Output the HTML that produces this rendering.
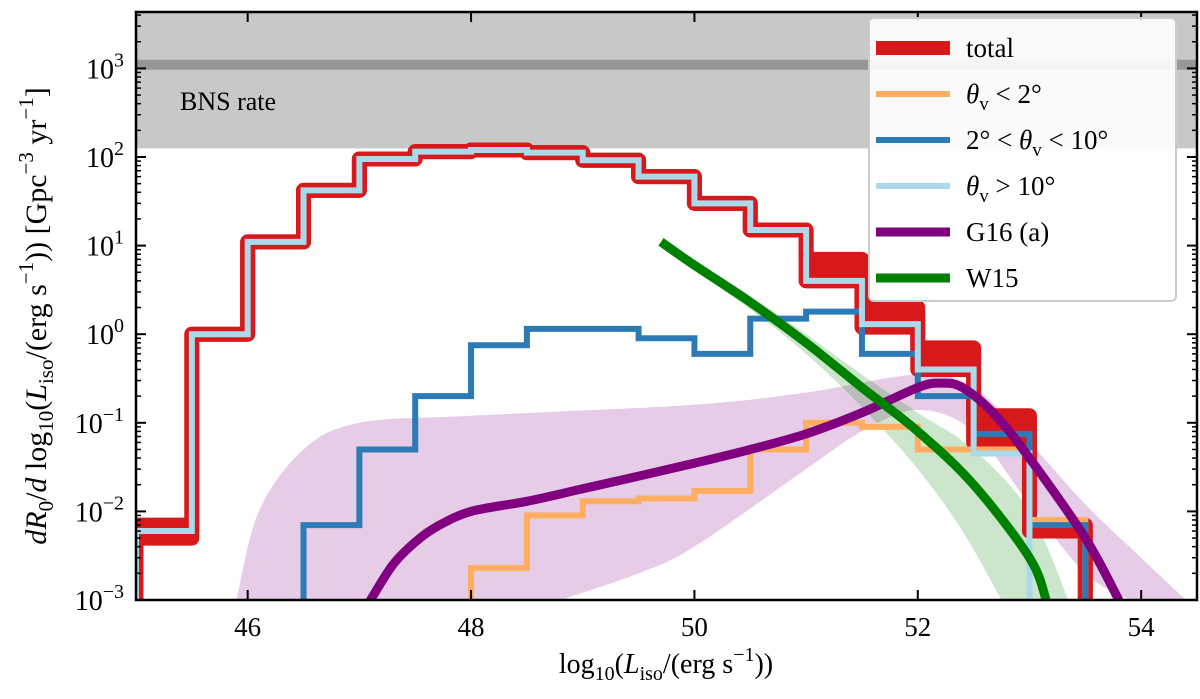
<!DOCTYPE html>
<html><head><meta charset="utf-8"><style>
html,body{margin:0;padding:0;background:#fff}
svg text{font-family:"Liberation Serif","DejaVu Serif",serif;fill:#000}
</style></head><body>
<svg id="chart" width="1200" height="694" xmlns="http://www.w3.org/2000/svg"></svg>
<script>
// ---- data ----
const binEdges = [45,45.5,46,46.5,47,47.5,48,48.5,49,49.5,50,50.5,51,51.5,52,52.5,53,53.5];
const totalHi = [0.007,1.0,11,42,95,115,120,112,92,60,30,15,7,2.0,0.7,0.12,0.007];
const totalLo = [0.005,1.0,11,42,95,115,120,112,92,60,30,15,4,1.2,0.4,0.06,0.006];
const lightBlue = [0.006,1.0,11,42,95,115,120,112,92,60,30,15,4,1.3,0.4,0.045,null];
const blueVals = [null,null,null,0.007,0.05,0.2,0.75,1.15,1.15,0.9,0.6,1.5,1.8,0.6,0.2,0.075,0.007];
const orangeVals = [null,null,null,null,null,null,0.0023,0.009,0.013,0.014,0.017,0.05,0.1,0.09,0.05,0.05,0.008];
const g16X = [47.1,47.3,47.5,47.7,48,48.5,49,49.5,50,50.5,51,51.5,52,52.2,52.4,52.7,53,53.5,53.8];
const g16Y = [0.001,0.0025,0.0045,0.0068,0.01,0.013,0.018,0.025,0.035,0.05,0.075,0.13,0.25,0.28,0.25,0.12,0.04,0.005,0.001];
const g16UpX = [45.9,46.1,46.5,47,48,50,51,52,52.5,53,53.5,54,54.4];
const g16UpY = [0.001,0.01,0.05,0.1,0.12,0.16,0.22,0.35,0.25,0.06,0.012,0.003,0.001];
const g16LoX = [48.8,49.5,50,51,51.5,52,52.5,53,53.5,53.9];
const g16LoY = [0.001,0.002,0.004,0.03,0.08,0.14,0.08,0.012,0.002,0.001];
const w15X = [49.7,50,50.5,51,51.5,52,52.5,53,53.15];
const w15Y = [11,6,2.3,0.8,0.25,0.08,0.02,0.003,0.001];
const w15UpX = [49.7,50,50.5,51,51.5,52,52.5,53,53.35];
const w15UpY = [13,7,2.7,1.0,0.35,0.13,0.05,0.01,0.001];
const w15LoX = [49.8,50.5,51,51.5,52,52.4,52.75];
const w15LoY = [8,1.9,0.6,0.15,0.03,0.006,0.001];
const bnsLow = 125, bnsLine = 1100;
const xTicks = [46,48,50,52,54];
const yTicks = [-3,-2,-1,0,1,2,3];
// ---- axes ----
const X0=136,X1=1197,Y0=600,Y1=12, xmin=45,xmax=54.5, lmin=-3, dec=88.6;
const ymaxLog = lmin + (Y0-Y1)/dec;
const sx=v=>X0+(v-xmin)/(xmax-xmin)*(X1-X0);
const sy=v=>{let l=Math.log10(v); if(l<lmin-0.3)l=lmin-0.3; return Y0-(l-lmin)*dec;};
const NS="http://www.w3.org/2000/svg", svg=document.getElementById('chart');
function mk(tag,attrs,parent){const e=document.createElementNS(NS,tag);for(const k in attrs)e.setAttribute(k,attrs[k]);(parent||plot).appendChild(e);return e;}
const defs=mk('defs',{},svg);
const cp=mk('clipPath',{id:'clip'},defs); mk('rect',{x:X0,y:Y1,width:X1-X0,height:Y0-Y1},cp);
const plot=mk('g',{'clip-path':'url(#clip)'},svg);


let b=mk('rect',{x:X0,y:Y1,width:X1-X0,height:sy(bnsLow)-Y1,fill:'#c8c8c8'});


b=mk('line',{x1:X0,x2:X1,y1:sy(bnsLine),y2:sy(bnsLine),stroke:'#969696','stroke-width':10});


function stepPath(vals){let d='',on=false;for(let i=0;i<vals.length;i++){const v=vals[i];if(v==null){continue;}
 const y=sy(v);if(!on){d+='M'+sx(binEdges[i])+','+(Y0+20)+'L'+sx(binEdges[i])+','+y;on=true;}else d+='L'+sx(binEdges[i])+','+y;
 d+='L'+sx(binEdges[i+1])+','+y;
 if(i+1>=vals.length||vals[i+1]==null){d+='L'+sx(binEdges[i+1])+','+(Y0+20);on=false;}}
 return d;}
function pts(xs,ys){return xs.map((x,i)=>[sx(x),sy(ys[i])]);}
function smooth(p,start){let d=(start||'M')+p[0][0]+','+p[0][1];
 for(let i=0;i<p.length-1;i++){const p0=p[Math.max(0,i-1)],p1=p[i],p2=p[i+1],p3=p[Math.min(p.length-1,i+2)];
  const c1=[p1[0]+(p2[0]-p0[0])/6,p1[1]+(p2[1]-p0[1])/6],c2=[p2[0]-(p3[0]-p1[0])/6,p2[1]-(p3[1]-p1[1])/6];
  d+='C'+c1[0]+','+c1[1]+' '+c2[0]+','+c2[1]+' '+p2[0]+','+p2[1];}
 return d;}
function bandPath(ux,uy,lx,ly){const lp=pts(lx,ly).reverse();return smooth(pts(ux,uy))+smooth(lp,'L')+'Z';}
let e=mk('path',{d:bandPath(g16UpX,g16UpY,g16LoX,g16LoY),fill:'#800080','fill-opacity':0.2});


e=mk('path',{d:bandPath(w15UpX,w15UpY,w15LoX,w15LoY),fill:'#008000','fill-opacity':0.2});


let rd='';for(let i=0;i<totalHi.length;i++){rd+=(i?'L':'M')+sx(binEdges[i])+','+sy(totalHi[i])+'L'+sx(binEdges[i+1])+','+sy(totalHi[i]);}
for(let i=totalLo.length-1;i>=0;i--){rd+='L'+sx(binEdges[i+1])+','+sy(totalLo[i])+'L'+sx(binEdges[i])+','+sy(totalLo[i]);}
e=mk('path',{d:rd+'Z',fill:'#d7191c'});


['hi','lo'].forEach(k=>{e=mk('path',{d:stepPath(k=='hi'?totalHi:totalLo),fill:'none',stroke:'#d7191c','stroke-width':15,'stroke-linejoin':'round'});

});
e=mk('path',{d:stepPath(orangeVals),fill:'none',stroke:'#fdae61','stroke-width':6});


e=mk('path',{d:stepPath(blueVals),fill:'none',stroke:'#2c7bb6','stroke-width':6});


e=mk('path',{d:stepPath(lightBlue),fill:'none',stroke:'#abd9e9','stroke-width':6});


e=mk('path',{d:smooth(pts(g16X,g16Y)),fill:'none',stroke:'#800080','stroke-width':9,'stroke-linecap':'round'});


e=mk('path',{d:smooth(pts(w15X,w15Y)),fill:'none',stroke:'#008000','stroke-width':9});


const ax=mk('g',{},svg);


mk('rect',{x:X0,y:Y1,width:X1-X0,height:Y0-Y1,fill:'none',stroke:'#000','stroke-width':2.5},ax);
xTicks.forEach(t=>{const x=sx(t);
 mk('line',{x1:x,x2:x,y1:Y0,y2:Y0-10,stroke:'#000','stroke-width':2},ax);
 mk('line',{x1:x,x2:x,y1:Y1,y2:Y1+10,stroke:'#000','stroke-width':2},ax);
 const tx=mk('text',{x:x,y:Y0+36,'text-anchor':'middle','font-size':27},ax);tx.textContent=t;
 
 });
for(let l=lmin;l<ymaxLog;l++){for(let m=1;m<10;m++){const v=Math.pow(10,l)*m;if(Math.log10(v)>ymaxLog)break;const y=sy(v);const L=m==1?10:5;
 mk('line',{x1:X0,x2:X0+L,y1:y,y2:y,stroke:'#000','stroke-width':m==1?2:1.5},ax);
 mk('line',{x1:X1,x2:X1-L,y1:y,y2:y,stroke:'#000','stroke-width':m==1?2:1.5},ax);}}
yTicks.forEach(t=>{const y=sy(Math.pow(10,t));
 const tx=mk('text',{x:X0-12,y:y+10,'text-anchor':'end','font-size':28},ax);
 
 
 tx.innerHTML='10<tspan dy="-12" font-size="20">'+(t<0?'\u2212'+(-t):t)+'</tspan>';});
let t=mk('text',{x:180,y:110,'font-size':26},ax);t.textContent='BNS rate';


t=mk('text',{x:666,y:673,'text-anchor':'middle','font-size':28},ax);


t.innerHTML='log<tspan dy="7" font-size="20">10</tspan><tspan dy="-7">(</tspan><tspan font-style="italic">L</tspan><tspan dy="7" font-size="20">iso</tspan><tspan dy="-7">/(erg s</tspan><tspan dy="-12" font-size="20">\u22121</tspan><tspan dy="12">))</tspan>';
t=mk('text',{x:0,y:0,'text-anchor':'middle','font-size':30,transform:'translate(46,316) rotate(-90)'},ax);


t.innerHTML='<tspan font-style="italic">dR</tspan><tspan dy="7" font-size="21">0</tspan><tspan dy="-7">/</tspan><tspan font-style="italic">d</tspan> log<tspan dy="7" font-size="21">10</tspan><tspan dy="-7">(</tspan><tspan font-style="italic">L</tspan><tspan dy="7" font-size="21">iso</tspan><tspan dy="-7">/(erg s</tspan><tspan dy="-13" font-size="21">\u22121</tspan><tspan dy="13">)) [Gpc</tspan><tspan dy="-13" font-size="21">\u22123</tspan><tspan dy="13"> yr</tspan><tspan dy="-13" font-size="21">\u22121</tspan><tspan dy="13">]</tspan>';
const lg=mk('g',{},svg);


mk('rect',{x:869,y:18,width:307,height:283,rx:5,fill:'#fff','fill-opacity':0.9,stroke:'#ccc','stroke-width':2},lg);
const legNames=['total','theta-lt-2','theta-2-10','theta-gt-10','g16','w15'];
const legCols=['#d7191c','#fdae61','#2c7bb6','#abd9e9','#800080','#008000'];
const legW=[14,6,6,6,9,9];
const legTxt=['total','<tspan font-style="italic">θ</tspan><tspan dy="7" font-size="19">v</tspan><tspan dy="-7"> &lt; 2°</tspan>','2° &lt; <tspan font-style="italic">θ</tspan><tspan dy="7" font-size="19">v</tspan><tspan dy="-7"> &lt; 10°</tspan>','<tspan font-style="italic">θ</tspan><tspan dy="7" font-size="19">v</tspan><tspan dy="-7"> &gt; 10°</tspan>','G16 (a)','W15'];
legNames.forEach((n,i)=>{const y=48+i*46;
 const g=mk('g',{},lg);
 
 
 mk('line',{x1:876,x2:950,y1:y,y2:y,stroke:legCols[i],'stroke-width':legW[i]},g);
 const tx=mk('text',{x:966,y:y+9,'font-size':27},g);tx.innerHTML=legTxt[i];});
</script>
</body></html>
